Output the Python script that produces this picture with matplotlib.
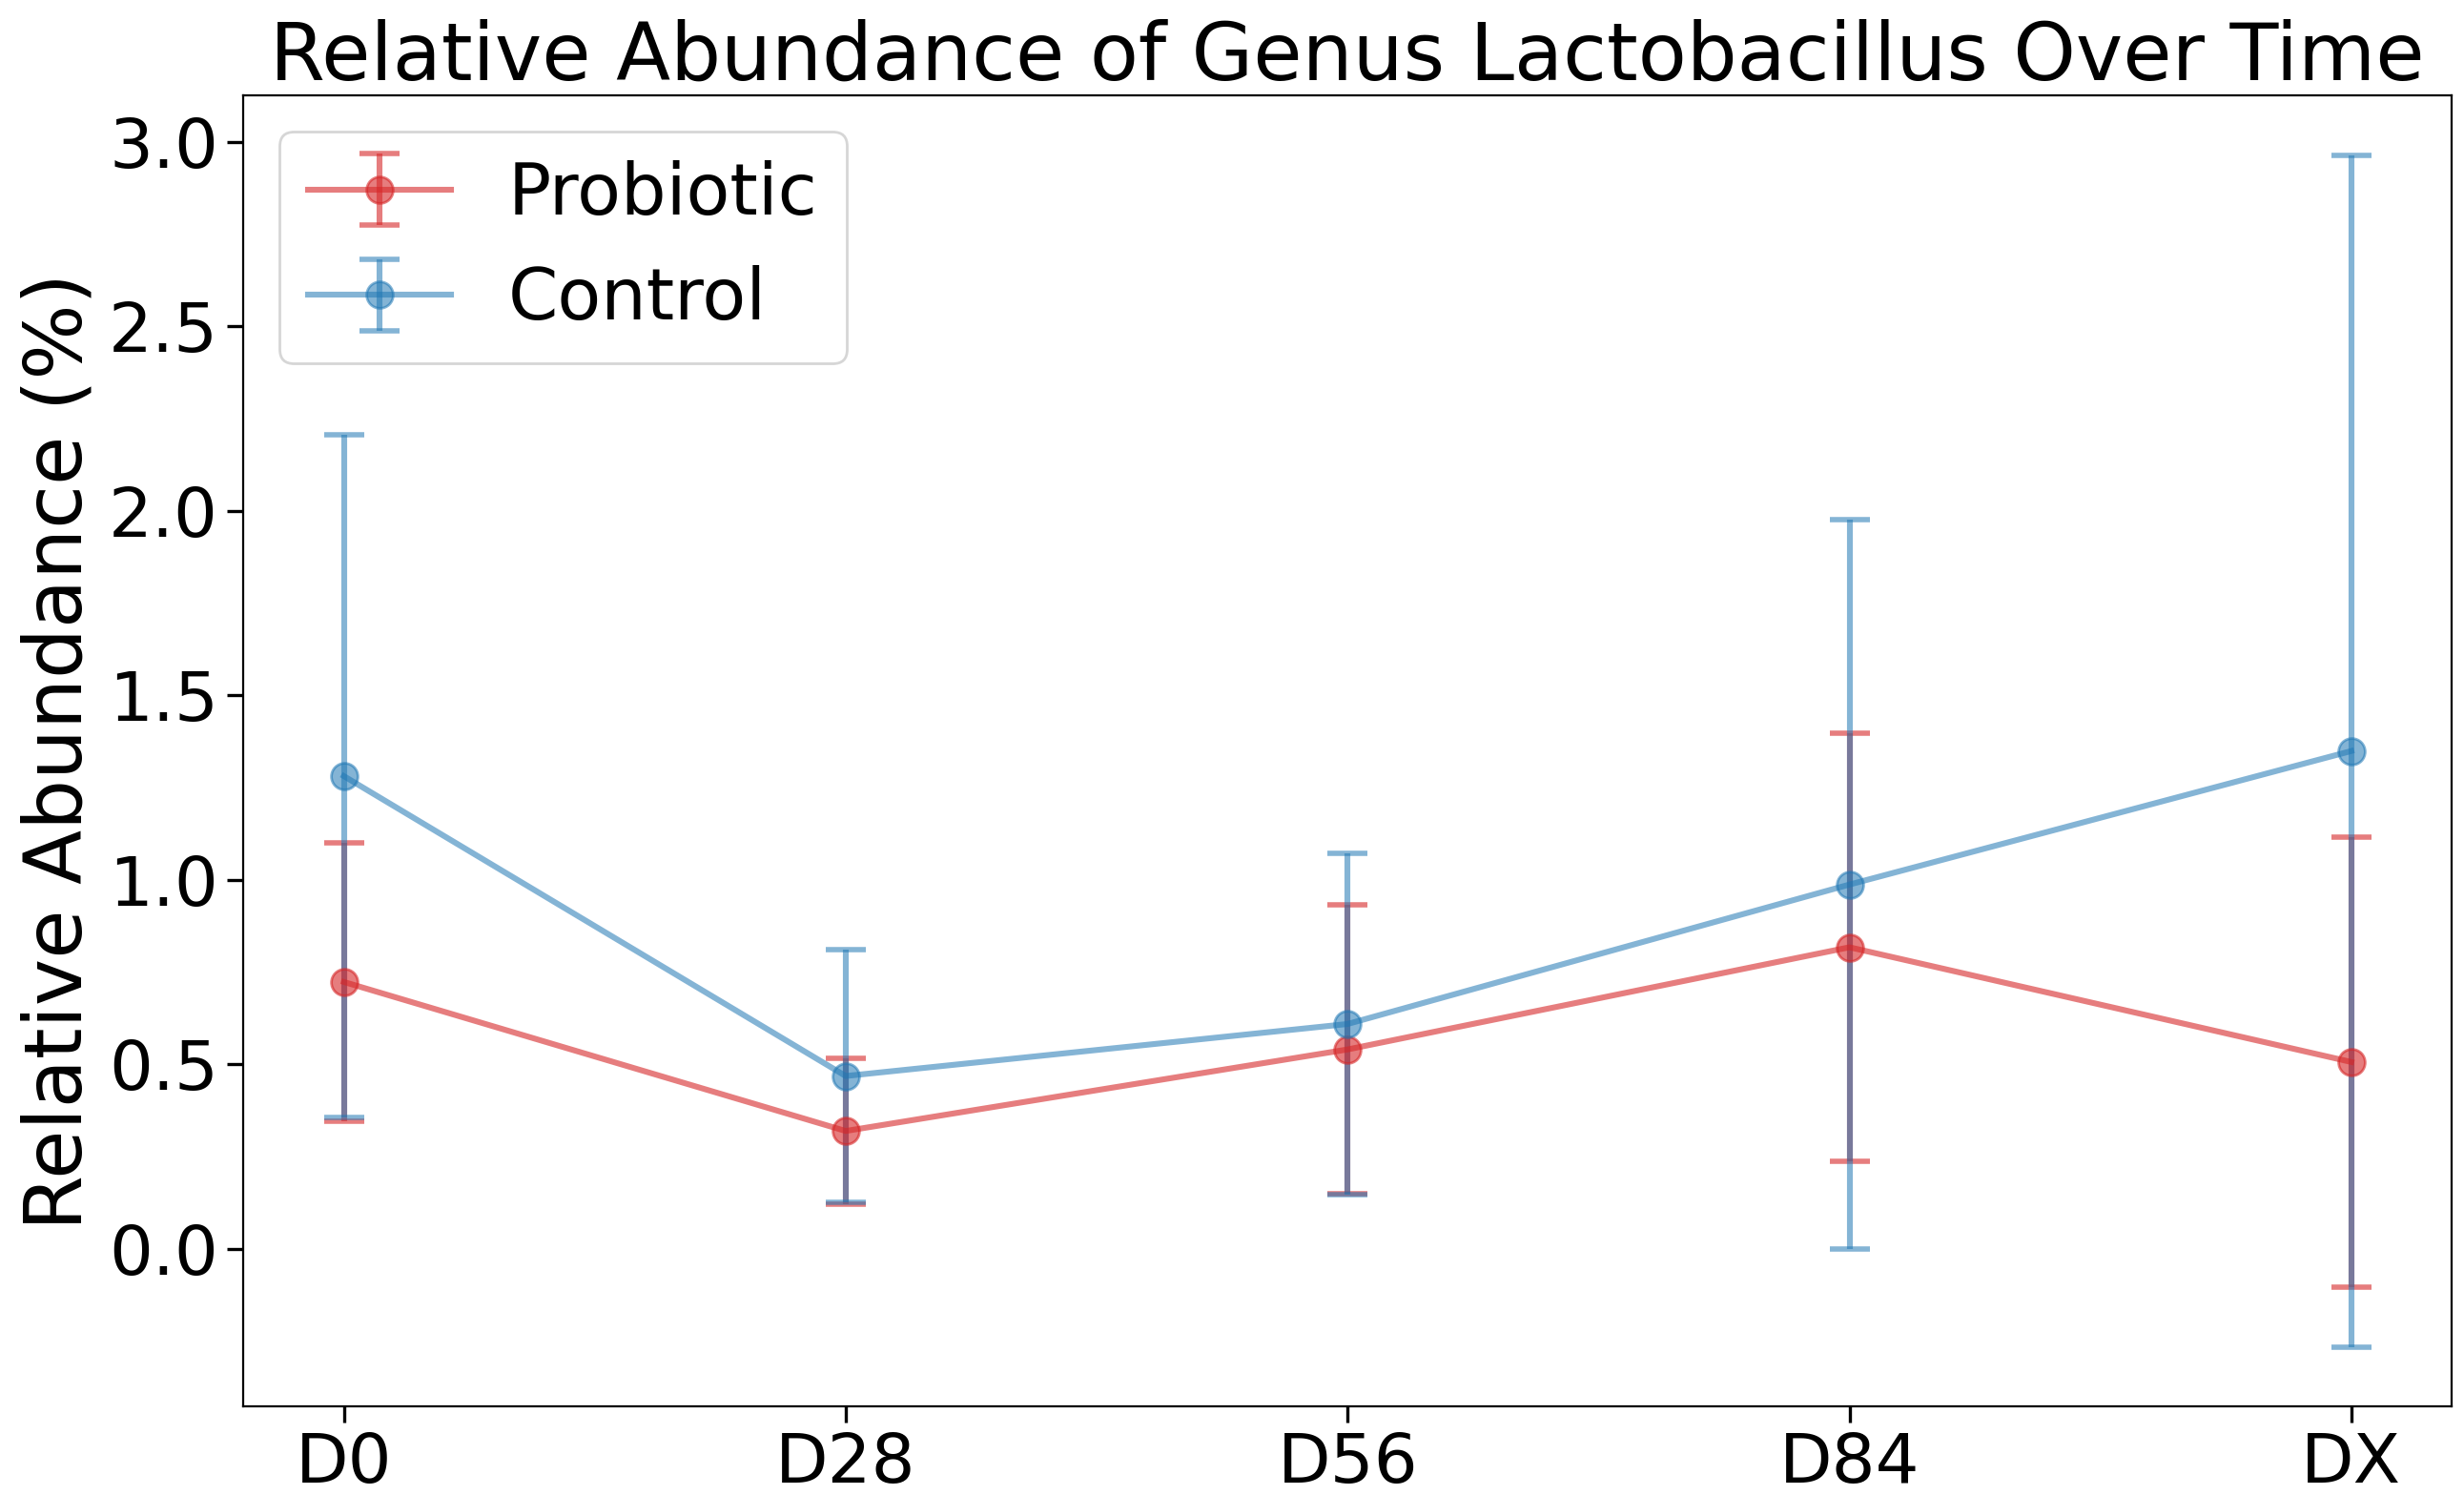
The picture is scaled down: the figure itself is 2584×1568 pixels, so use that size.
import matplotlib
matplotlib.use("Agg")
import matplotlib.pyplot as plt
import numpy as np

timepoints = ["D0", "D28", "D56", "D84", "DX"]
probiotic_mean = [0.723, 0.319, 0.540, 0.817, 0.506]
probiotic_err = [0.377, 0.198, 0.392, 0.580, 0.610]
control_mean = [1.281, 0.468, 0.609, 0.987, 1.349]
control_err = [0.926, 0.342, 0.462, 0.988, 1.615]

fig = plt.figure(figsize=(12.92, 7.84), dpi=200)
ax = fig.add_axes([0.0988, 0.0593, 0.8962, 0.8767])
x = np.arange(len(timepoints))
ax.errorbar(x, probiotic_mean, yerr=probiotic_err, fmt='-o', color='tab:red',
            ecolor='tab:red', alpha=0.6, linewidth=2.2, elinewidth=2.2,
            capsize=7.5, capthick=2.0, markersize=10, label='Probiotic')
ax.errorbar(x, control_mean, yerr=control_err, fmt='-o', color='tab:blue',
            ecolor='tab:blue', alpha=0.55, linewidth=2.2, elinewidth=2.2,
            capsize=7.5, capthick=2.0, markersize=10, label='Control')
ax.set_xticks(x)
ax.set_xticklabels(timepoints)
ax.tick_params(labelsize=26, length=6, width=1.2)
ax.set_ylabel("Relative Abundance (%)", fontsize=30)
ax.set_title("Relative Abundance of Genus Lactobacillus Over Time", fontsize=30)
ax.legend(fontsize=27, loc='upper left')
fig.savefig("out.png", dpi=200)
